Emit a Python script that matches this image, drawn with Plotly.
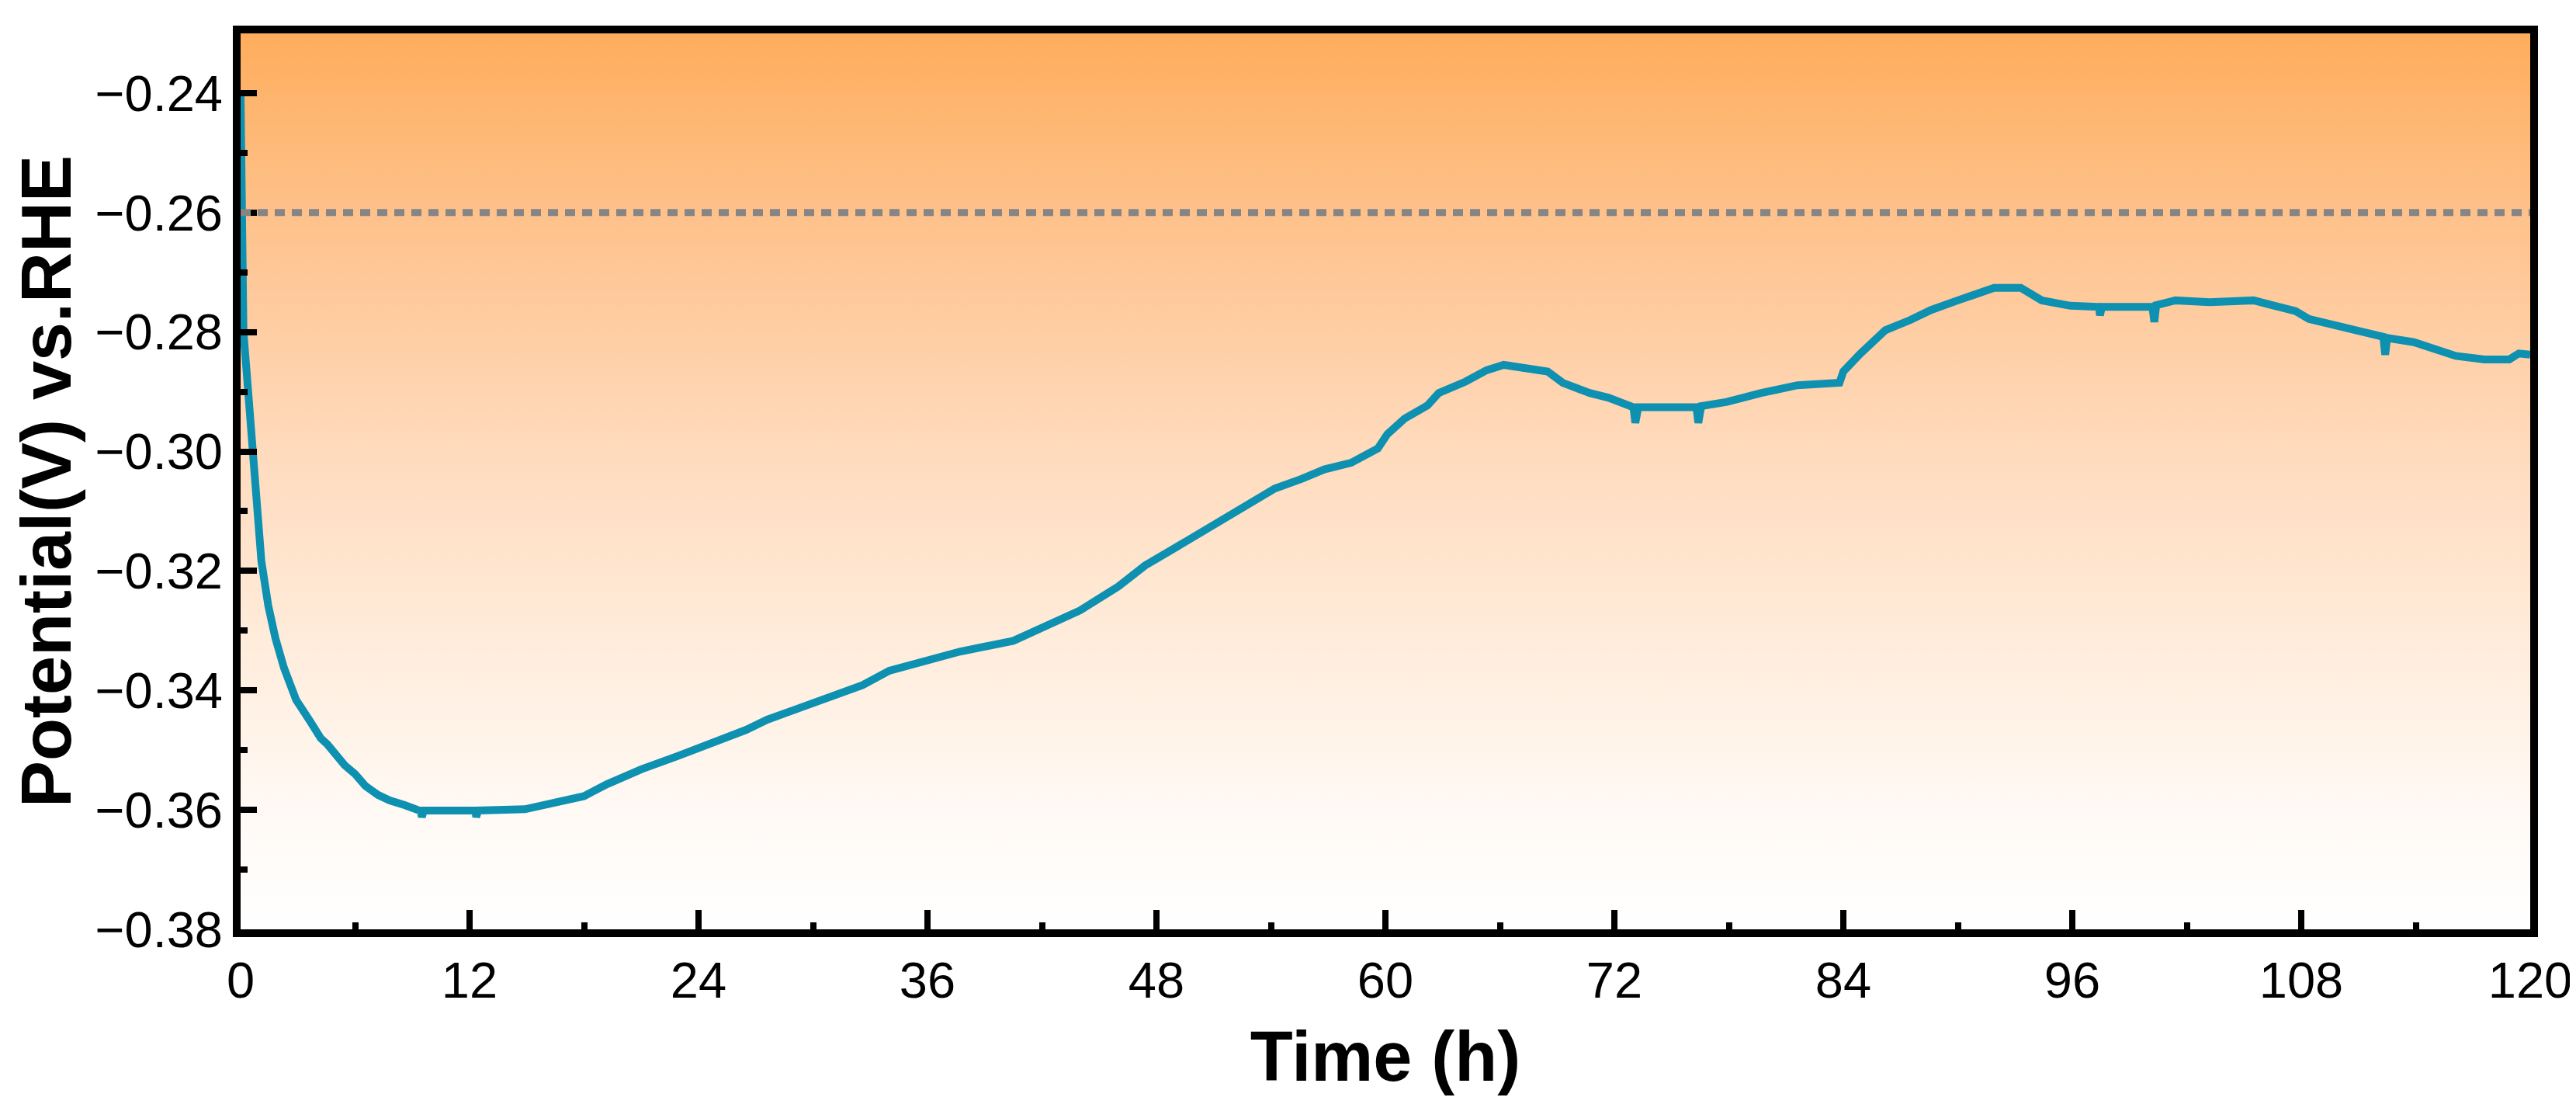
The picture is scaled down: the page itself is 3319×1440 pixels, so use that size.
import plotly.graph_objects as go

# chronopotentiometry trace
TIME_H = [
    0.00, 0.05, 0.15, 0.30, 0.45, 0.58, 0.82, 1.09, 1.45, 1.82, 2.27, 2.91,
    3.63, 4.20, 4.54, 5.45, 6.00, 6.54, 7.20, 7.80, 8.60, 9.44, 9.50, 9.60,
    10.5, 12.3, 12.35, 12.45, 14.9, 16.5, 18.0, 19.2, 21.0, 22.9, 24.7, 26.5,
    27.6, 29.0, 30.5, 32.6, 34.0, 36.0, 37.7, 40.5, 41.7, 44.0, 46.0, 47.4,
    49.1, 50.8, 52.5, 54.2, 55.6, 56.8, 58.2, 59.6, 60.1, 61.0, 62.2, 62.8,
    64.2, 65.3, 66.2, 67.9, 68.5, 69.3, 70.7, 71.7, 72.4, 73.0, 73.1, 73.25,
    76.3, 76.4, 76.55, 77.9, 79.7, 81.6, 83.8, 84.0, 84.9, 86.2, 87.5, 88.6,
    90.0, 91.9, 93.3, 94.4, 95.9, 97.4, 97.45, 97.55, 100.2, 100.3, 100.4, 101.4,
    103.2, 105.5, 106.6, 107.7, 108.4, 109.5, 110.9, 112.3, 112.4, 112.5, 113.9, 115.0,
    116.1, 117.6, 118.9, 119.4, 120.0,
]
POTENTIAL_V = [
    -0.2404, -0.2650, -0.2800, -0.2860, -0.2920, -0.3006, -0.3105, -0.3184, -0.3258, -0.3312, -0.3362, -0.3416,
    -0.3451, -0.3480, -0.3490, -0.3525, -0.3540, -0.3560, -0.3575, -0.3584, -0.3592, -0.3602, -0.3612, -0.3601,
    -0.3601, -0.3601, -0.3612, -0.3601, -0.3599, -0.3589, -0.3577, -0.3557, -0.3532, -0.3510, -0.3489, -0.3466,
    -0.3449, -0.3433, -0.3415, -0.3391, -0.3367, -0.3348, -0.3335, -0.3317, -0.3300, -0.3266, -0.3226, -0.3191,
    -0.3159, -0.3126, -0.3092, -0.3062, -0.3046, -0.3030, -0.3019, -0.2995, -0.2971, -0.2945, -0.2923, -0.2902,
    -0.2883, -0.2864, -0.2855, -0.2864, -0.2866, -0.2885, -0.2902, -0.2910, -0.2920, -0.2926, -0.2952, -0.2926,
    -0.2926, -0.2952, -0.2924, -0.2917, -0.2902, -0.2889, -0.2885, -0.2866, -0.2836, -0.2797, -0.2780, -0.2763,
    -0.2747, -0.2726, -0.2726, -0.2747, -0.2756, -0.2758, -0.2772, -0.2758, -0.2758, -0.2783, -0.2755, -0.2747,
    -0.2750, -0.2747, -0.2756, -0.2765, -0.2778, -0.2786, -0.2795, -0.2808, -0.2838, -0.2810, -0.2817, -0.2827,
    -0.2840, -0.2846, -0.2846, -0.2836, -0.2838,
]

REF_POTENTIAL = -0.26          # dotted reference line
X_RANGE = [0, 120]
Y_RANGE = [-0.38, -0.23]
X_TICKS = list(range(0, 121, 12))

FONT = "Liberation Sans, Arial, sans-serif"
LINE_COLOR = "#0E90B0"
# background fades from white (bottom) to orange (top)
BG_SCALE = [
    [0.00, "#FFFFFF"],
    [0.12, "#FFFAF6"],
    [0.35, "#FFEAD7"],
    [0.55, "#FFD9BA"],
    [0.80, "#FEC18A"],
    [1.00, "#FEAD5C"],
]

fig = go.Figure()

# gradient box filling the whole plotting area
fig.add_trace(go.Scatter(
    x=[X_RANGE[0], X_RANGE[1], X_RANGE[1], X_RANGE[0], X_RANGE[0]],
    y=[Y_RANGE[0], Y_RANGE[0], Y_RANGE[1], Y_RANGE[1], Y_RANGE[0]],
    mode="lines",
    line=dict(width=0),
    fill="toself",
    fillgradient=dict(type="vertical", colorscale=BG_SCALE),
    hoverinfo="skip",
    showlegend=False,
))

fig.add_trace(go.Scatter(
    x=TIME_H,
    y=POTENTIAL_V,
    mode="lines",
    line=dict(color=LINE_COLOR, width=10),
    showlegend=False,
))

fig.add_hline(y=REF_POTENTIAL, line=dict(color="#858585", width=9, dash="13px,9px"))

fig.update_xaxes(
    range=X_RANGE,
    tickvals=X_TICKS,
    ticks="inside", ticklen=25, tickwidth=8, tickcolor="black",
    minor=dict(dtick=6, tick0=0, ticks="inside", ticklen=9, tickwidth=8, tickcolor="black"),
    showline=True, linewidth=10, linecolor="black", mirror=True,
    showgrid=False, zeroline=False,
    tickfont=dict(family=FONT, size=65, color="black"),
    title=dict(text="<b>Time (h)</b>", font=dict(family=FONT, size=90, color="black"), standoff=35),
)

fig.update_yaxes(
    range=Y_RANGE,
    tick0=-0.24, dtick=0.02, tickformat=".2f",
    ticks="inside", ticklen=21, tickwidth=8, tickcolor="black",
    minor=dict(dtick=0.01, ticks="inside", ticklen=9, tickwidth=8, tickcolor="black"),
    showline=True, linewidth=10, linecolor="black", mirror=True,
    showgrid=False, zeroline=False,
    tickfont=dict(family=FONT, size=65, color="black"),
    title=dict(text="<b>Potential(V) vs.RHE</b>", font=dict(family=FONT, size=90, color="black"), standoff=5),
)

fig.update_layout(
    width=3319,
    height=1440,
    margin=dict(l=302, r=67, t=35, b=251),
    paper_bgcolor="white",
    plot_bgcolor="white",
)

fig.write_html("out.html", config={"displayModeBar": False})
